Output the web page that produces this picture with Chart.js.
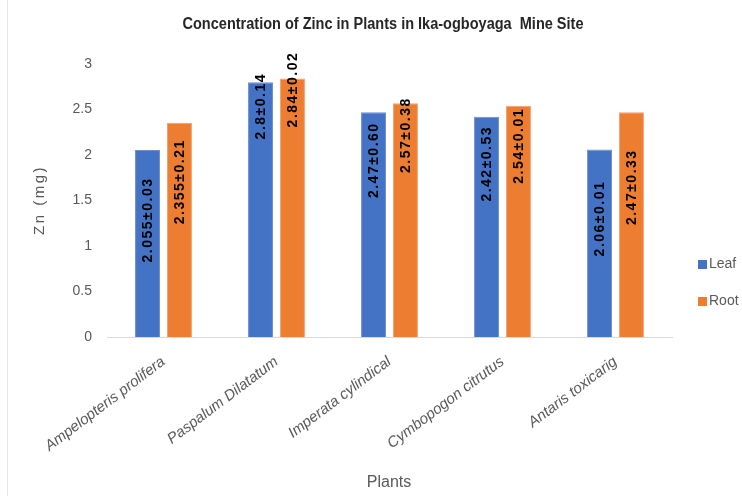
<!DOCTYPE html>
<html>
<head>
<meta charset="utf-8">
<script src="https://cdn.jsdelivr.net/npm/chart.js@4.4.1/dist/chart.umd.min.js"></script>
<style>
  html, body { margin: 0; padding: 0; background: #ffffff; }
  #wrap { width: 742px; height: 496px; position: relative; }
</style>
</head>
<body>
<div id="wrap"><canvas id="chart" width="742" height="496"></canvas></div>
<script>
// Zinc concentration (mg) per plant, leaf vs root, with standard deviations
const plants = ['Ampelopteris prolifera', 'Paspalum Dilatatum', 'Imperata cylindical', 'Cymbopogon citrutus', 'Antaris toxicarig'];
const leafZn = [2.055, 2.8, 2.47, 2.42, 2.06];
const rootZn = [2.355, 2.84, 2.57, 2.54, 2.47];
const leafSd = ['0.03', '0.14', '0.60', '0.53', '0.01'];
const rootSd = ['0.21', '0.02', '0.38', '0.01', '0.33'];
const seriesNames = ['Leaf', 'Root'];

const BLUE = '#4472C4';
const ORANGE = '#ED7D31';
const GREY = '#595959';

// how far below each bar top the centre of its rotated value label sits (px)
const labelDrop = [
  [70, 24, 48, 47, 69],
  [59, 11, 32, 40, 75]
];

const valueLabels = {
  id: 'valueLabels',
  afterDatasetsDraw(chart) {
    const ctx = chart.ctx;
    const sds = [leafSd, rootSd];
    chart.data.datasets.forEach((ds, di) => {
      const meta = chart.getDatasetMeta(di);
      meta.data.forEach((bar, i) => {
        const text = String(ds.data[i]) + '\u00B1' + sds[di][i];
        ctx.save();
        ctx.translate(bar.x, bar.y + labelDrop[di][i]);
        ctx.rotate(-Math.PI / 2);
        ctx.font = 'bold 14px "Liberation Sans", Arial, sans-serif';
        ctx.letterSpacing = '1.5px';
        ctx.fillStyle = '#000000';
        ctx.textAlign = 'center';
        ctx.textBaseline = 'middle';
        ctx.fillText(text, 0, 1);
        ctx.restore();
      });
    });
  }
};

const decorations = {
  id: 'decorations',
  beforeDraw(chart) {
    const ctx = chart.ctx;
    ctx.save();
    ctx.fillStyle = '#ffffff';
    ctx.fillRect(0, 0, chart.width, chart.height);
    ctx.strokeStyle = '#e6e6e6';
    ctx.lineWidth = 1;
    ctx.beginPath();
    ctx.moveTo(7.5, 0);
    ctx.lineTo(7.5, chart.height);
    ctx.stroke();
    ctx.restore();
  },
  afterDraw(chart) {
    const ctx = chart.ctx;
    ctx.save();
    // chart title
    ctx.fillStyle = '#262626';
    ctx.font = 'bold 16px "Liberation Sans", Arial, sans-serif';
    ctx.textAlign = 'center';
    ctx.textBaseline = 'alphabetic';
    ctx.fillText('Concentration of Zinc in Plants in Ika-ogboyaga  Mine Site', 383, 29, 401);

    // axis titles
    ctx.fillStyle = GREY;
    ctx.font = '15px "Liberation Sans", Arial, sans-serif';
    ctx.textBaseline = 'middle';
    ctx.save();
    ctx.translate(40, 200);
    ctx.rotate(-Math.PI / 2);
    ctx.letterSpacing = '2.5px';
    ctx.fillText('Zn (mg)', 0, 0);
    ctx.restore();
    ctx.font = '16px "Liberation Sans", Arial, sans-serif';
    ctx.fillText('Plants', 389, 483);

    // legend
    const colors = [BLUE, ORANGE];
    const rows = [264.5, 301.5];
    ctx.textAlign = 'left';
    ctx.font = '14px "Liberation Sans", Arial, sans-serif';
    seriesNames.forEach((name, k) => {
      ctx.fillStyle = colors[k];
      ctx.fillRect(698, rows[k] - 4.5, 9, 9);
      ctx.fillStyle = GREY;
      ctx.fillText(name, 709, rows[k]);
    });
    ctx.restore();
  }
};

new Chart(document.getElementById('chart'), {
  type: 'bar',
  data: {
    labels: plants,
    datasets: [
      { label: seriesNames[0], data: leafZn, backgroundColor: BLUE, borderColor: '#6a8fd3', borderWidth: 1 },
      { label: seriesNames[1], data: rootZn, backgroundColor: ORANGE, borderColor: '#f3a06c', borderWidth: 1 }
    ]
  },
  options: {
    responsive: false,
    animation: false,
    devicePixelRatio: 1,
    layout: { padding: { top: 64, right: 70, bottom: 0, left: 0 } },
    datasets: {
      bar: { categoryPercentage: 0.566, barPercentage: 0.78 }
    },
    plugins: {
      legend: { display: false },
      title: { display: false },
      tooltip: { enabled: false }
    },
    scales: {
      x: {
        grid: { display: false, drawTicks: false },
        border: { display: true, color: '#d9d9d9', width: 1 },
        ticks: {
          minRotation: 37,
          maxRotation: 37,
          padding: 16,
          color: GREY,
          font: { family: '"Liberation Sans", Arial, sans-serif', size: 15, style: 'italic' }
        },
        afterFit(scale) { scale.height = 159; }
      },
      y: {
        min: 0,
        max: 3,
        grid: { display: false, drawTicks: false },
        border: { display: false },
        ticks: {
          stepSize: 0.5,
          padding: 15,
          color: GREY,
          font: { family: '"Liberation Sans", Arial, sans-serif', size: 14 },
          callback: (value) => String(value)
        },
        afterFit(scale) { scale.width = 107; }
      }
    }
  },
  plugins: [decorations, valueLabels]
});
</script>
</body>
</html>
